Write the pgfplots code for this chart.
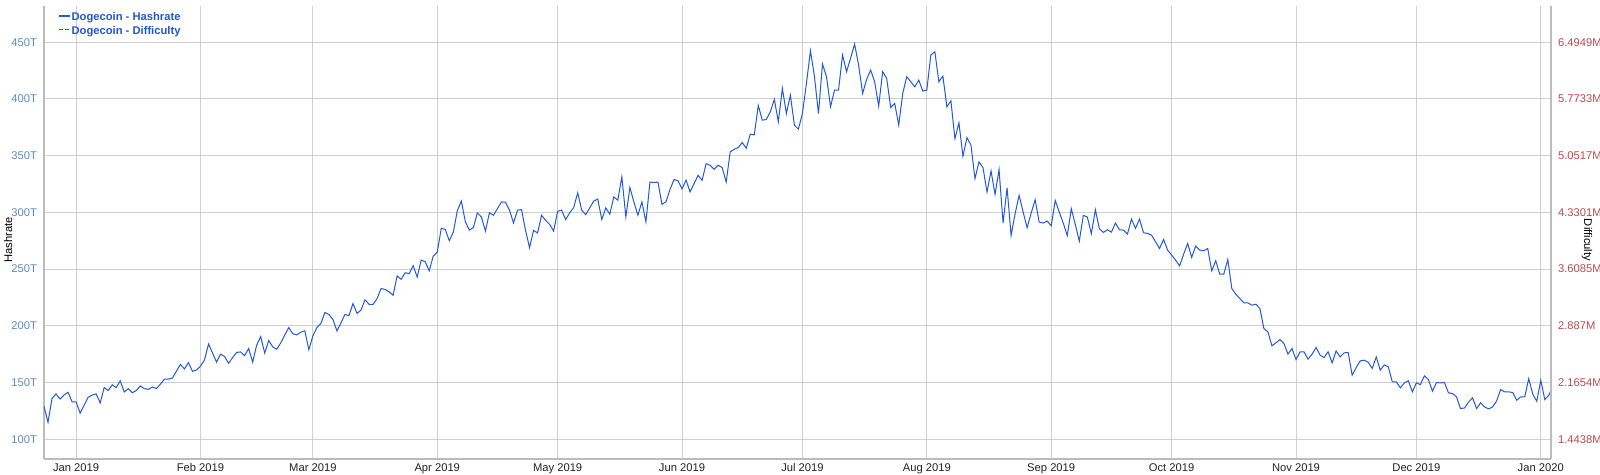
\documentclass[border=0pt]{standalone}
\usepackage{pgfplots}
\pgfplotsset{compat=1.18}
\usepackage{fontspec}
\setmainfont{Liberation Sans}
\definecolor{hash}{HTML}{2159D8}
\definecolor{legc}{HTML}{2255CC}
\definecolor{ltick}{HTML}{5B8AC6}
\definecolor{rtick}{HTML}{B84A4A}
\definecolor{gridc}{HTML}{CFCFCF}
\definecolor{axc}{HTML}{BBBBBB}
\definecolor{xtc}{HTML}{222222}
% 1 px of the reference = 0.5pt; day 0 = 1 Jan 2019
\pgfplotsset{
  base/.style={
    at={(0,0)}, anchor=south west, scale only axis,
    width=753.5pt, height=226.5pt,
    xmin=-8, xmax=367.55, ymin=82.6, ymax=482,
    major tick length=0pt,
    axis line style={draw=axc, line width=1pt},
    tick label style={font=\fontsize{5.6}{6.5}\selectfont},
  }
}
\begin{document}
\begin{tikzpicture}
\useasboundingbox (-22pt,-8pt) rectangle (778pt,229.5pt);
\begin{axis}[base,
  axis x line*=bottom, axis y line*=left,
  xtick={0,31,59,90,120,151,181,212,243,273,304,334,365},
  xticklabels={Jan 2019,Feb 2019,Mar 2019,Apr 2019,May 2019,Jun 2019,Jul 2019,Aug 2019,Sep 2019,Oct 2019,Nov 2019,Dec 2019,Jan 2020},
  xticklabel style={text=xtc, text height=4.1pt, text depth=1.2pt, inner sep=1pt, yshift=-1.2pt},
  ytick={100,150,200,250,300,350,400,450},
  yticklabels={100T,150T,200T,250T,300T,350T,400T,450T},
  yticklabel style={text=ltick},
  grid=major, major grid style={draw=gridc, line width=0.5pt},
  legend style={at={(axis description cs:0.0093,0.988)}, anchor=north west,
    draw=none, fill=none, inner sep=0pt, row sep=0pt,
    font=\bfseries\fontsize{5.6}{6}\selectfont, text=legc,
    nodes={inner sep=0.5pt}},
  legend cell align=left,
  legend image code/.code={\draw[#1] (0pt,1pt) -- (5.2pt,1pt);},
]
\addplot[color=hash, line width=0.5pt, forget plot] coordinates {
(-8,129) (-7,115) (-6,136) (-5,140) (-4,135.5) (-3,139) (-2,141.4) (-1,133) (0,133)
(1,123) (2,130) (3,137) (4,139) (5,140) (6,132) (7,145.6) (8,143) (9,148) (10,145.6)
(11,151.5) (12,141.7) (13,144.7) (14,141) (15,143) (16,147) (17,144.7) (18,144) (19,146) (20,144.7)
(21,148.5) (22,153) (23,153) (24,154) (25,160) (26,166) (27,162) (28,167.5) (29,160) (30,161)
(31,164.5) (32,170) (33,184) (34,176) (35,168) (36,175) (37,173) (38,167) (39,172) (40,176.6)
(41,177) (42,173.7) (43,180) (44,168) (45,183) (46,190.5) (47,176) (48,187) (49,181.5) (50,179.4)
(51,185) (52,192) (53,198.5) (54,193) (55,192) (56,194.4) (57,195.6) (58,179) (59,191) (60,198.5)
(61,202) (62,211.8) (63,210) (64,205.6) (65,195.6) (66,202.6) (67,210) (68,209) (69,219.7) (70,211)
(71,213.8) (72,223) (73,219) (74,218.8) (75,224) (76,233) (77,232) (78,230) (79,227) (80,244)
(81,241) (82,246.8) (83,246) (84,253) (85,243) (86,258) (87,256.5) (88,248.5) (89,261.5) (90,265)
(91,286) (92,285) (93,275) (94,282.6) (95,301.5) (96,310) (97,291.8) (98,284.4) (99,286.6) (100,299.6)
(101,296) (102,283.6) (103,299.6) (104,297.5) (105,303.4) (106,309.3) (107,309) (108,302) (109,290.7) (110,302)
(111,302.5) (112,284.2) (113,268.9) (114,284.2) (115,281.9) (116,297.5) (117,293) (118,289.5) (119,283.6) (120,301)
(121,302) (122,293.7) (123,299.6) (124,304.3) (125,317.3) (126,302) (127,298) (128,304) (129,310) (130,311.8)
(131,293.7) (132,304) (133,298.4) (134,313.7) (135,310.8) (136,331.4) (137,296) (138,322) (139,309.3) (140,297.5)
(141,309.3) (142,291.6) (143,326.7) (144,326.4) (145,326.7) (146,307.2) (147,309.3) (148,320.2) (149,329) (150,327.9)
(151,320.8) (152,328.5) (153,318.1) (154,325.4) (155,332.7) (156,328.3) (157,343) (158,341.6) (159,338) (160,341.6)
(161,339.5) (162,326.8) (163,353.4) (164,355.7) (165,357.2) (166,361.6) (167,356.6) (168,369) (169,368.4) (170,394.3)
(171,381.3) (172,382) (173,388.7) (174,399.6) (175,379.9) (176,409.3) (177,387.2) (178,403.4) (179,376.9) (180,373.4)
(181,387.2) (182,413.8) (183,442.6) (184,419.7) (185,387.2) (186,430.8) (187,419.7) (188,393.1) (189,407.9) (190,407.9)
(191,438.8) (192,424.1) (193,435.9) (194,448.5) (195,430) (196,404.9) (197,417.3) (198,425.5) (199,415.2) (200,393.7)
(201,424.1) (202,418.2) (203,392.5) (204,396.1) (205,376.9) (206,404.9) (207,419.7) (208,415.2) (209,410.8) (210,416.7)
(211,407) (212,407.9) (213,438.8) (214,441.7) (215,415.2) (216,420.2) (217,393.1) (218,398.4) (219,365.1) (220,379)
(221,349.5) (222,366) (223,359.3) (224,329.8) (225,344.5) (226,339.5) (227,318) (228,336.6) (229,315.9) (230,337.7)
(231,290.6) (232,321.8) (233,279.6) (234,298.9) (235,315) (236,300.3) (237,286.5) (238,299.4) (239,311.2) (240,291.5)
(241,290.6) (242,292.4) (243,288.2) (244,310.6) (245,300.3) (246,290.6) (247,279.6) (248,303.3) (249,289.4) (250,274.7)
(251,297.4) (252,295.9) (253,281.2) (254,302.4) (255,285.6) (256,282.4) (257,284.7) (258,282.6) (259,290.6) (260,284.7)
(261,284.4) (262,280.9) (263,294.1) (264,285.9) (265,294.1) (266,282.1) (267,281.5) (268,280) (269,274.1) (270,268.2)
(271,276.2) (272,266.8) (273,262.4) (274,257.9) (275,252.9) (276,263.2) (277,272.6) (278,260.3) (279,270.3) (280,266.8)
(281,266.2) (282,268.2) (283,248.5) (284,257.4) (285,245.6) (286,245.6) (287,258.5) (288,232.9) (289,227.9) (290,224.1)
(291,220.3) (292,220.3) (293,218.2) (294,219.1) (295,215.3) (296,197.6) (297,194.7) (298,182.4) (299,185) (300,187.9)
(301,184.4) (302,175) (303,180) (304,170.3) (305,177.1) (306,177.1) (307,170.6) (308,175) (309,180.9) (310,174.1)
(311,172.1) (312,177.1) (313,167.4) (314,177.9) (315,172.6) (316,176.2) (317,176.5) (318,156.5) (319,163.2) (320,169.1)
(321,169.7) (322,167.9) (323,162.4) (324,172.6) (325,160.9) (326,165.6) (327,163.8) (328,150.6) (329,150.6) (330,145.3)
(331,149.7) (332,151.5) (333,141.8) (334,149.7) (335,148.2) (336,155.9) (337,152.6) (338,142.4) (339,150) (340,149.7)
(341,150) (342,140.9) (343,140.3) (344,137.4) (345,127.1) (346,127.6) (347,132.9) (348,136.5) (349,127.1) (350,132.1)
(351,128.5) (352,126.8) (353,128.5) (354,133.8) (355,143.8) (356,141.8) (357,141.8) (358,141.2) (359,134.4) (360,137.4)
(361,137.4) (362,153.5) (363,139.7) (364,133.5) (365,152.1) (366,135) (367,138.8) (367.55,143.2)
};
\addlegendimage{color=hash, line width=0.9pt}
\addlegendentry{Dogecoin - Hashrate}
\addlegendimage{color=hash, line width=0.9pt, dash pattern=on 1.8pt off 1.2pt}
\addlegendentry{Dogecoin - Difficulty}
\end{axis}
\begin{axis}[base,
  axis x line=none, axis y line*=right,
  ytick={100,150,200,250,300,350,400,450},
  yticklabels={1.4438M,2.1654M,2.887M,3.6085M,4.3301M,5.0517M,5.7733M,6.4949M},
  yticklabel style={text=rtick},
]
\end{axis}
\node[rotate=90, font=\fontsize{5.6}{6.5}\selectfont] at (-18pt,109.5pt) {Hashrate};
\node[rotate=-90, font=\fontsize{5.6}{6.5}\selectfont] at (771.5pt,109.5pt) {Difficulty};
\end{tikzpicture}
\end{document}
